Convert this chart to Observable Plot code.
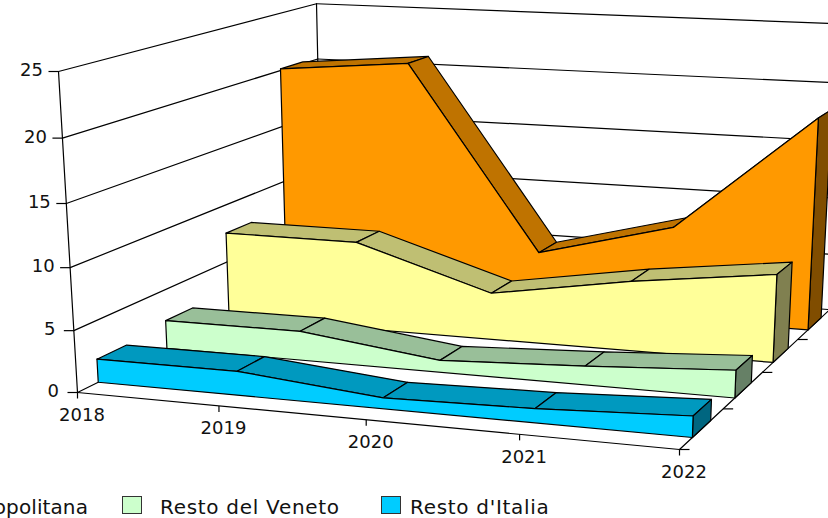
<!DOCTYPE html>
<html>
<head>
<meta charset="utf-8">
<script src="https://cdn.jsdelivr.net/npm/d3@7"></script>
<script src="https://cdn.jsdelivr.net/npm/@observablehq/plot@0.6"></script>
<style>
html,body{margin:0;padding:0;background:#fff;overflow:hidden;width:828px;height:518px}
#legend{position:absolute;left:0;top:492px;width:828px;height:26px;font:20px "DejaVu Sans",sans-serif;letter-spacing:.7px;color:#111;white-space:nowrap}
#legend .item{position:absolute;top:3px;display:flex;align-items:center;height:20px}
#legend .sw{display:inline-block;width:18px;height:16px;border:1px solid #333;flex:none}
#legend .lb{position:relative;top:2px}
</style>
</head>
<body>
<div id="chart"></div>
<div id="legend"></div>
<script>
// ---- data ----
const years = [2018, 2019, 2020, 2021, 2022];
const ticksY = [0, 5, 10, 15, 20, 25];
const venezia = [20.15, 21.15, 5.1, 8.15, 18.2];
const restoCitta = [7.55, 7.55, 4.0, 5.9, 7.35];
const restoVeneto = [2.39, 2.44, 0.99, 1.53, 2.23];
const restoItalia = [1.9, 1.94, 0.87, 1.11, 1.65];
const seriesNames = ["Venezia", "Resto città metropolitana", "Resto del Veneto", "Resto d'Italia"];
const seriesValues = [venezia, restoCitta, restoVeneto, restoItalia];
const faceColors = ["#FF9900", "#FFFF99", "#CCFFCC", "#00CCFF"];
const topColors = ["#BF7300", "#BFBF73", "#99BF99", "#0099BF"];
const sideColors = ["#804D00", "#808050", "#668066", "#006680"];
const depthBands = [[0.828, 0.93], [0.573, 0.68], [0.322, 0.427], [0.071, 0.176]];
const depthTicks = [0, 0.25, 0.5, 0.75, 1];

// ---- perspective frame of the 3D box ----
const O = [77, 392], A = [679, 449], B = [58, 71], C = [322, 271.1];
const wx = 0.9215, wy = 0.9545, wz = 1.21;
const col = (P, w) => [w * P[0] - O[0], w * P[1] - O[1], w - 1];
const cx = col(A, wx), cy = col(B, wy), cz = col(C, wz);
function project(year, value, z) {
  const x = (year - 2018) / 4, y = value / 25;
  const h = 1 + x * cx[2] + y * cy[2] + z * cz[2];
  return {
    x: (O[0] + x * cx[0] + y * cy[0] + z * cz[0]) / h,
    y: (O[1] + x * cx[1] + y * cy[1] + z * cz[1]) / h
  };
}

const W = 828, H = 492, SW = 1.2, FS = 18;
const poly = (pts, fill) => Plot.line([...pts, pts[0]], {x: "x", y: "y", fill, stroke: "#000", strokeWidth: SW, strokeLinejoin: "round"});
const seg = (a, b) => Plot.line([a, b], {x: "x", y: "y", stroke: "#000", strokeWidth: SW});

const marks = [];
// walls and grid
for (const v of ticksY) {
  marks.push(seg(project(2018, v, 0), project(2018, v, 1)));
  marks.push(seg(project(2018, v, 1), project(2022, v, 1)));
}
marks.push(seg(project(2018, 0, 0), project(2018, 25, 0)));
marks.push(seg(project(2018, 0, 1), project(2018, 25, 1)));
marks.push(seg(project(2018, 0, 0), project(2022, 0, 0)));
marks.push(seg(project(2022, 0, 0), project(2022, 0, 1)));

// value ticks and labels
const yTickData = ticksY.map(v => ({v, ...project(2018, v, 0)}));
marks.push(Plot.link(yTickData, {x1: d => d.x - 10, x2: "x", y1: "y", y2: "y", stroke: "#000", strokeWidth: SW}));
marks.push(Plot.text(yTickData, {x: d => d.x - (d.v < 10 ? 18.5 : 15.5), y: "y", text: d => String(d.v), textAnchor: "end", lineAnchor: "middle", dy: -1, fontSize: FS, fill: "#111"}));

// year ticks and labels
const xTickData = years.map(v => ({v, ...project(v, 0, 0)}));
marks.push(Plot.link(xTickData, {x1: "x", x2: "x", y1: "y", y2: d => d.y + 6, stroke: "#000", strokeWidth: SW}));
marks.push(Plot.text(xTickData, {x: "x", y: "y", text: d => String(d.v), lineAnchor: "bottom", dx: 4.5, dy: 28.5, fontSize: FS, fill: "#111"}));

// depth ticks
const zTickData = depthTicks.map(z => project(2022, 0, z));
marks.push(Plot.link(zTickData, {x1: "x", x2: d => d.x + 10, y1: "y", y2: "y", stroke: "#000", strokeWidth: SW}));

// series, back to front
seriesValues.forEach((vals, i) => {
  const [z0, z1] = depthBands[i];
  for (let k = 0; k < years.length - 1; k++) {
    marks.push(poly([
      project(years[k], vals[k], z0),
      project(years[k + 1], vals[k + 1], z0),
      project(years[k + 1], vals[k + 1], z1),
      project(years[k], vals[k], z1)
    ], topColors[i]));
  }
  const last = vals[vals.length - 1];
  marks.push(poly([
    project(2022, 0, z0), project(2022, last, z0),
    project(2022, last, z1), project(2022, 0, z1)
  ], sideColors[i]));
  marks.push(poly([
    ...years.map((yr, k) => project(yr, vals[k], z0)),
    project(2022, 0, z0),
    project(2018, 0, z0)
  ], faceColors[i]));
});

const plot = Plot.plot({
  width: W, height: H,
  marginTop: 0, marginRight: 0, marginBottom: 0, marginLeft: 0,
  x: {domain: [0, W], range: [0, W], axis: null},
  y: {domain: [0, H], range: [0, H], axis: null},
  style: {fontFamily: "'DejaVu Sans', sans-serif", background: "#fff", overflow: "hidden"},
  marks
});
document.getElementById("chart").appendChild(plot);

// legend, wider than the window as in the original
const legend = document.getElementById("legend");
[[seriesNames[1], faceColors[1], -300, 18], [seriesNames[2], faceColors[2], 122, 18], [seriesNames[3], faceColors[3], 381, 9]].forEach(([name, color, left, gap]) => {
  const it = document.createElement("div");
  it.className = "item";
  if (left < 0) { it.style.right = (828 - 88) + "px"; it.style.letterSpacing = ".1px"; } else { it.style.left = left + "px"; }
  const sw = document.createElement("span");
  sw.className = "sw";
  sw.style.background = color;
  sw.style.marginRight = gap + "px";
  const lb = document.createElement("span");
  lb.className = "lb";
  lb.textContent = name;
  it.appendChild(sw);
  it.appendChild(lb);
  legend.appendChild(it);
});
</script>
</body>
</html>
